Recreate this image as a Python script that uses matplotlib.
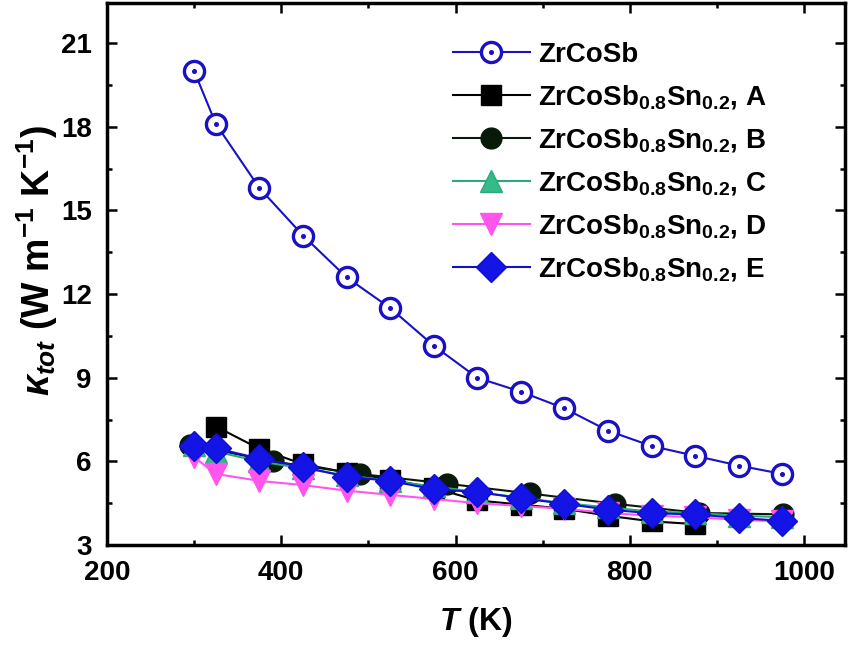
import matplotlib
matplotlib.use("Agg")
import matplotlib.pyplot as plt
from matplotlib.legend_handler import HandlerTuple
from matplotlib.ticker import MultipleLocator

plt.rcParams['font.family'] = ['Liberation Sans', 'DejaVu Sans']
plt.rcParams['font.weight'] = 'bold'
plt.rcParams['mathtext.fontset'] = 'custom'
plt.rcParams['mathtext.rm'] = 'Liberation Sans:bold'
plt.rcParams['mathtext.bf'] = 'Liberation Sans:bold'
plt.rcParams['mathtext.it'] = 'Liberation Sans:italic'
plt.rcParams['mathtext.bfit'] = 'Liberation Sans:bold:italic'

# Data
T_pure = [300, 325, 375, 425, 475, 525, 575, 625, 675, 725, 775, 825, 875, 925, 975]
k_pure = [20.0, 18.1, 15.8, 14.1, 12.6, 11.5, 10.15, 9.0, 8.5, 7.9, 7.1, 6.55, 6.2, 5.85, 5.55]

T_A = [325, 375, 425, 475, 525, 575, 625, 675, 725, 775, 825, 875]
k_A = [7.25, 6.45, 5.9, 5.6, 5.35, 5.05, 4.6, 4.45, 4.3, 4.05, 3.85, 3.75]

T_B = [295, 390, 490, 590, 685, 783, 880, 976]
k_B = [6.6, 6.0, 5.55, 5.2, 4.85, 4.48, 4.15, 4.1]

T_C = [300, 325, 375, 425, 475, 525, 575, 625, 675, 725, 775, 825, 875, 925, 975]
k_C = [6.6, 6.35, 6.0, 5.75, 5.5, 5.3, 5.1, 4.9, 4.7, 4.5, 4.35, 4.2, 4.15, 4.05, 4.0]

T_D = [300, 325, 375, 425, 475, 525, 575, 625, 675, 725, 775, 825, 875, 925, 975]
k_D = [6.15, 5.55, 5.3, 5.15, 4.95, 4.8, 4.65, 4.5, 4.4, 4.3, 4.15, 4.05, 4.0, 3.9, 3.85]

T_E = [300, 325, 375, 425, 475, 525, 575, 625, 675, 725, 775, 825, 875, 925, 975]
k_E = [6.55, 6.47, 6.1, 5.8, 5.45, 5.3, 5.0, 4.9, 4.68, 4.48, 4.27, 4.14, 4.1, 3.97, 3.87]

labels = ['ZrCoSb',
          r'ZrCoSb$_{\mathbf{0.8}}$Sn$_{\mathbf{0.2}}$, A',
          r'ZrCoSb$_{\mathbf{0.8}}$Sn$_{\mathbf{0.2}}$, B',
          r'ZrCoSb$_{\mathbf{0.8}}$Sn$_{\mathbf{0.2}}$, C',
          r'ZrCoSb$_{\mathbf{0.8}}$Sn$_{\mathbf{0.2}}$, D',
          r'ZrCoSb$_{\mathbf{0.8}}$Sn$_{\mathbf{0.2}}$, E']

fig = plt.figure(figsize=(8.5, 6.49), dpi=100)
ax = fig.add_axes([0.1259, 0.1602, 0.8682, 0.8352])

blue_dark = '#1a10c4'
lw = 1.5
h0, = ax.plot(T_pure, k_pure, '-o', color=blue_dark, mfc='white', mec=blue_dark,
              mew=2.4, ms=14.5, lw=lw, zorder=3)
h0d, = ax.plot(T_pure, k_pure, 'o', color=blue_dark, ms=2.6, lw=0, zorder=4)
hA, = ax.plot(T_A, k_A, '-s', color='black', mfc='black', ms=15, lw=lw, zorder=3)
hB, = ax.plot(T_B, k_B, '-o', color='#0a1a0a', mfc='#0a1a0a', mec='#0a1a0a', ms=15, lw=lw, zorder=3)
hC, = ax.plot(T_C, k_C, '-^', color='#2aaa7a', mfc='#33bb88', mec='#2aaa7a', ms=16, lw=lw, zorder=3)
hD, = ax.plot(T_D, k_D, '-v', color='#ff55ee', mfc='#ff55ee', mec='#ff55ee', ms=16, lw=lw, zorder=3)
hE, = ax.plot(T_E, k_E, '-D', color='#1010cc', mfc='#1414e6', mec='#1010cc', ms=15.5, lw=lw, zorder=3)

leg = ax.legend([(h0, h0d), hA, hB, hC, hD, hE], labels,
                handler_map={tuple: HandlerTuple(ndivide=1, pad=0)},
                loc='upper left', bbox_to_anchor=(0.469, 0.928), frameon=False,
                fontsize=20, handlelength=2.75, labelspacing=0.54, handletextpad=0.3,
                borderpad=0, borderaxespad=0)
for t in leg.get_texts():
    t.set_fontweight('bold')

ax.set_xlim(200, 1047)
ax.set_ylim(3, 22.44)
ax.xaxis.set_major_locator(MultipleLocator(200))
ax.xaxis.set_minor_locator(MultipleLocator(100))
ax.yaxis.set_major_locator(MultipleLocator(3))
ax.yaxis.set_minor_locator(MultipleLocator(1.5))
ax.tick_params(which='both', direction='in', top=True, right=True, width=1.8)
ax.tick_params(which='major', length=7, labelsize=20, pad=11)
ax.tick_params(which='minor', length=3.5)
for lab in ax.get_xticklabels() + ax.get_yticklabels():
    lab.set_fontweight('bold')
for s in ax.spines.values():
    s.set_linewidth(2.5)

ax.set_xlabel(r'$\mathbfit{T}$ (K)', fontsize=23, fontweight='bold')
ax.xaxis.set_label_coords((476 - 107) / 738, -(622 - 545) / 542)
ax.set_ylabel(r'$\kappa_{\mathit{tot}}$ (W m$^{\mathbf{-1}}$ K$^{\mathbf{-1}}$)',
              fontsize=27, fontweight='bold')
ax.yaxis.set_label_coords(-(107 - 37) / 738, 1 - (261 - 3) / 542)
ax.yaxis.label.set_va('center')
ax.xaxis.label.set_va('center')

fig.savefig('out.png', dpi=100)
